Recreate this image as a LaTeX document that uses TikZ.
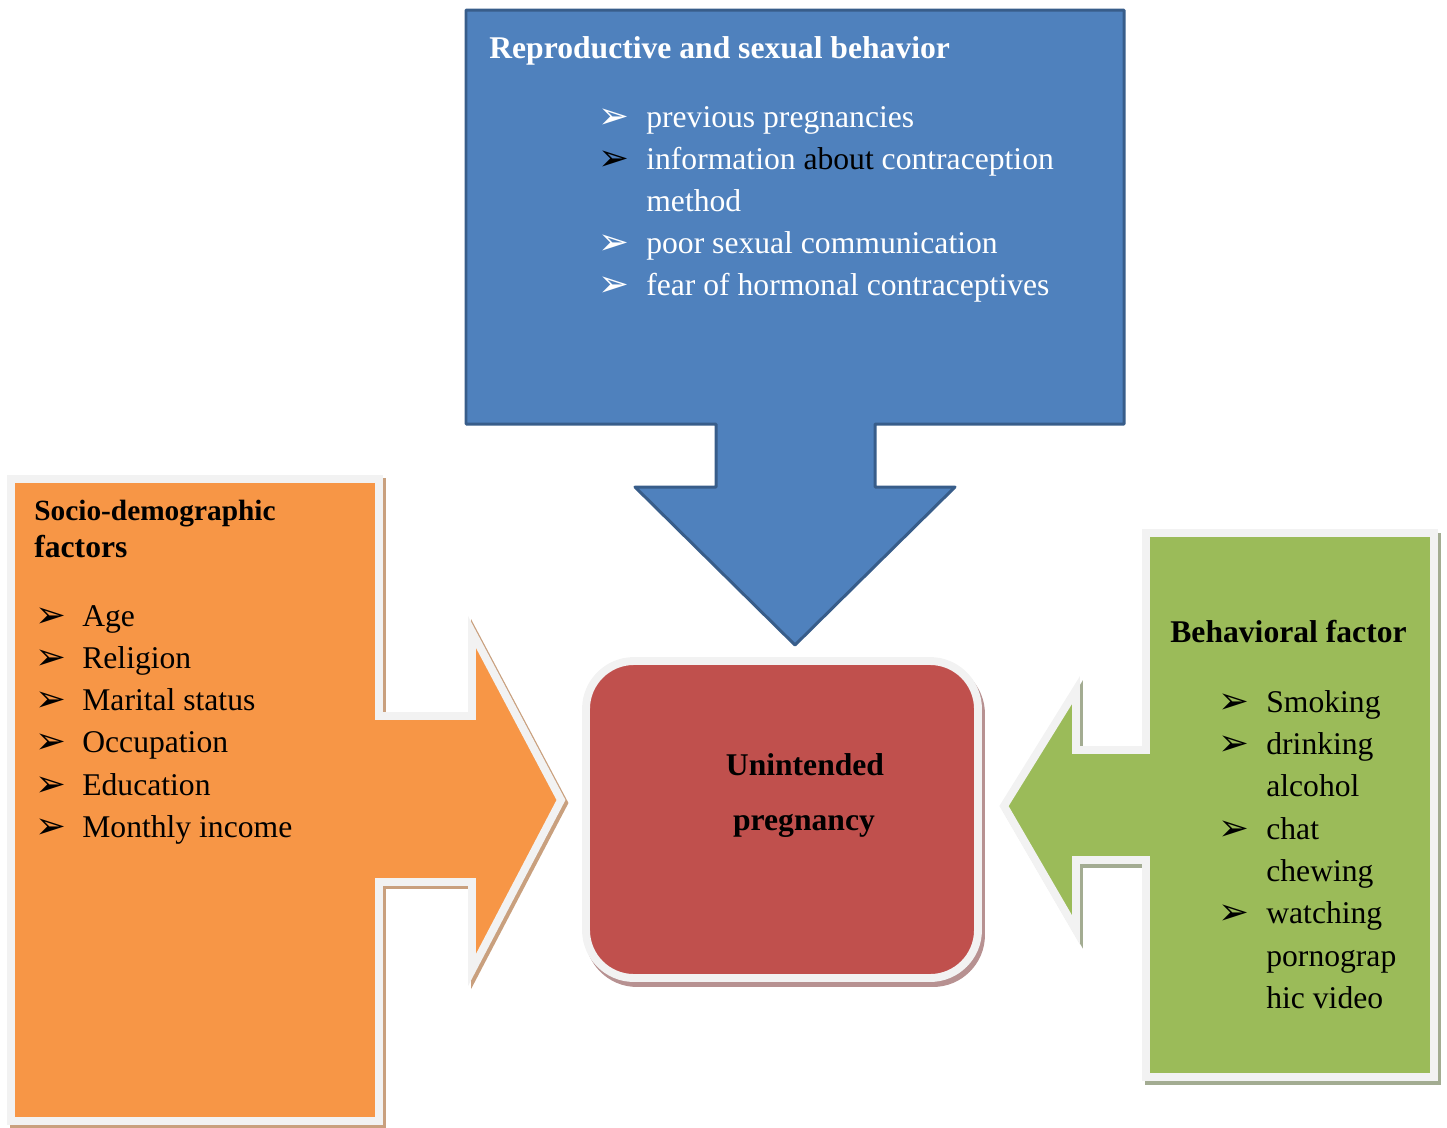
\documentclass[tikz,border=0pt]{standalone}
\usepackage{fontspec}
\setmainfont{Liberation Serif}
\newfontfamily\dingfont{DejaVu Sans}
\usepackage{tikz}
\definecolor{boxblue}{HTML}{4F81BD}
\definecolor{edgeblue}{HTML}{385D8A}
\definecolor{boxorange}{HTML}{F79646}
\definecolor{shadeorange}{HTML}{C9A07E}
\definecolor{boxgreen}{HTML}{9BBB59}
\definecolor{shadegreen}{HTML}{A3AC92}
\definecolor{boxred}{HTML}{C0504D}
\definecolor{shadered}{HTML}{B79191}
\definecolor{rim}{HTML}{F2F2F2}
\tikzstyle{item}=[anchor=base west,inner sep=0pt,
                  font=\fontsize{18}{22}\selectfont]
\tikzstyle{head}=[anchor=base west,inner sep=0pt,
                  font=\fontsize{18}{22}\selectfont\bfseries]
\tikzstyle{arrowbullet}=[anchor=base west,inner sep=0pt,
                  font=\dingfont\fontsize{21}{21}\selectfont]
\tikzstyle{rimmed}=[draw=rim,line width=4.5pt]

\begin{document}
\begin{tikzpicture}[x=0.02cm,y=-0.02cm]
    \newcommand{\bulletarrow}{➢}
    \useasboundingbox (0,0) rectangle (1447,1127);
    % top block with arrow down
    \draw[edgeblue,fill=boxblue,line width=1.7pt,line join=round]
      (466,10) -- (1124,10) -- (1124,424) -- (875,424) -- (875,487)
      -- (955,487) -- (795,645) -- (635,487) -- (716,487) -- (716,424)
      -- (466,424) -- cycle;
    % left block with arrow right
    \draw[rimmed,fill=boxorange,
          preaction={draw=shadeorange,fill=shadeorange,line width=4.5pt,
                     transform canvas={shift={(3,3)}}}]
      (11,479) -- (379,479) -- (379,716) -- (472,716) -- (472,632)
      -- (561,800) -- (472,970) -- (472,882) -- (379,882) -- (379,1121)
      -- (11,1121) -- cycle;
    % right block with arrow left
    \draw[rimmed,fill=boxgreen,
          preaction={draw=shadegreen,fill=shadegreen,line width=4.5pt,
                     transform canvas={shift={(3,4)}}}]
      (1146,533) -- (1434,533) -- (1434,1077) -- (1146,1077) -- (1146,860)
      -- (1076,860) -- (1076,930) -- (1004,806) -- (1076,690) -- (1076,750)
      -- (1146,750) -- cycle;
    % centre
    \draw[rimmed,fill=boxred,rounded corners=0.96cm,
          preaction={draw=shadered,fill=shadered,line width=4.5pt,
                     transform canvas={shift={(3,5)}}}]
      (586,661) rectangle (978,978);

    \node (rhead) at (489,58) [head,text=white]{Reproductive and sexual behavior};
    \node (rb1) at (598,128) [arrowbullet,text=white]{\bulletarrow};
    \node (r1) at (646,127) [item,text=white]{previous pregnancies};
    \node (rb2) at (598,170) [arrowbullet]{\bulletarrow};
    \node (r2) at (646,169) [item,text=white]{information \textcolor{black}{about} contraception};
    \node (r2b) at (646,211) [item,text=white]{method};
    \node (rb3) at (598,254) [arrowbullet,text=white]{\bulletarrow};
    \node (r3) at (646,253) [item,text=white]{poor sexual communication};
    \node (rb4) at (598,296) [arrowbullet,text=white]{\bulletarrow};
    \node (r4) at (646,295) [item,text=white]{fear of hormonal contraceptives};

    \node (shead) at (34,520) [head,font=\fontsize{16.7}{20}\selectfont\bfseries]{Socio-demographic};
    \node (shead2) at (34,557) [head]{factors};
    \foreach \t [count=\i] in {Age,Religion,Marital status,Occupation,Education,Monthly income}{
      \node (sb\i) at (35,585+42.2*\i) [arrowbullet]{\bulletarrow};
      \node (s\i) at (82,584+42.2*\i) [item]{\t};
    }

    \node (bhead) at (1170,642) [head]{Behavioral factor};
    \node (bb1) at (1218,713) [arrowbullet]{\bulletarrow};
    \node (b1) at (1266,712) [item]{Smoking};
    \node (bb2) at (1218,755) [arrowbullet]{\bulletarrow};
    \node (b2) at (1266,754) [item]{drinking};
    \node (b2b) at (1266,796) [item]{alcohol};
    \node (bb3) at (1218,840) [arrowbullet]{\bulletarrow};
    \node (b3) at (1266,839) [item]{chat};
    \node (b3b) at (1266,881) [item]{chewing};
    \node (bb4) at (1218,924) [arrowbullet]{\bulletarrow};
    \node (b4) at (1266,923) [item]{watching};
    \node (b4b) at (1266,966) [item]{pornograp};
    \node (b4c) at (1266,1008) [item]{hic video};

    \node (u1) at (805,775) [head,anchor=base]{Unintended};
    \node (u2) at (804,830) [head,anchor=base]{pregnancy};
  \end{tikzpicture}
\end{document}
